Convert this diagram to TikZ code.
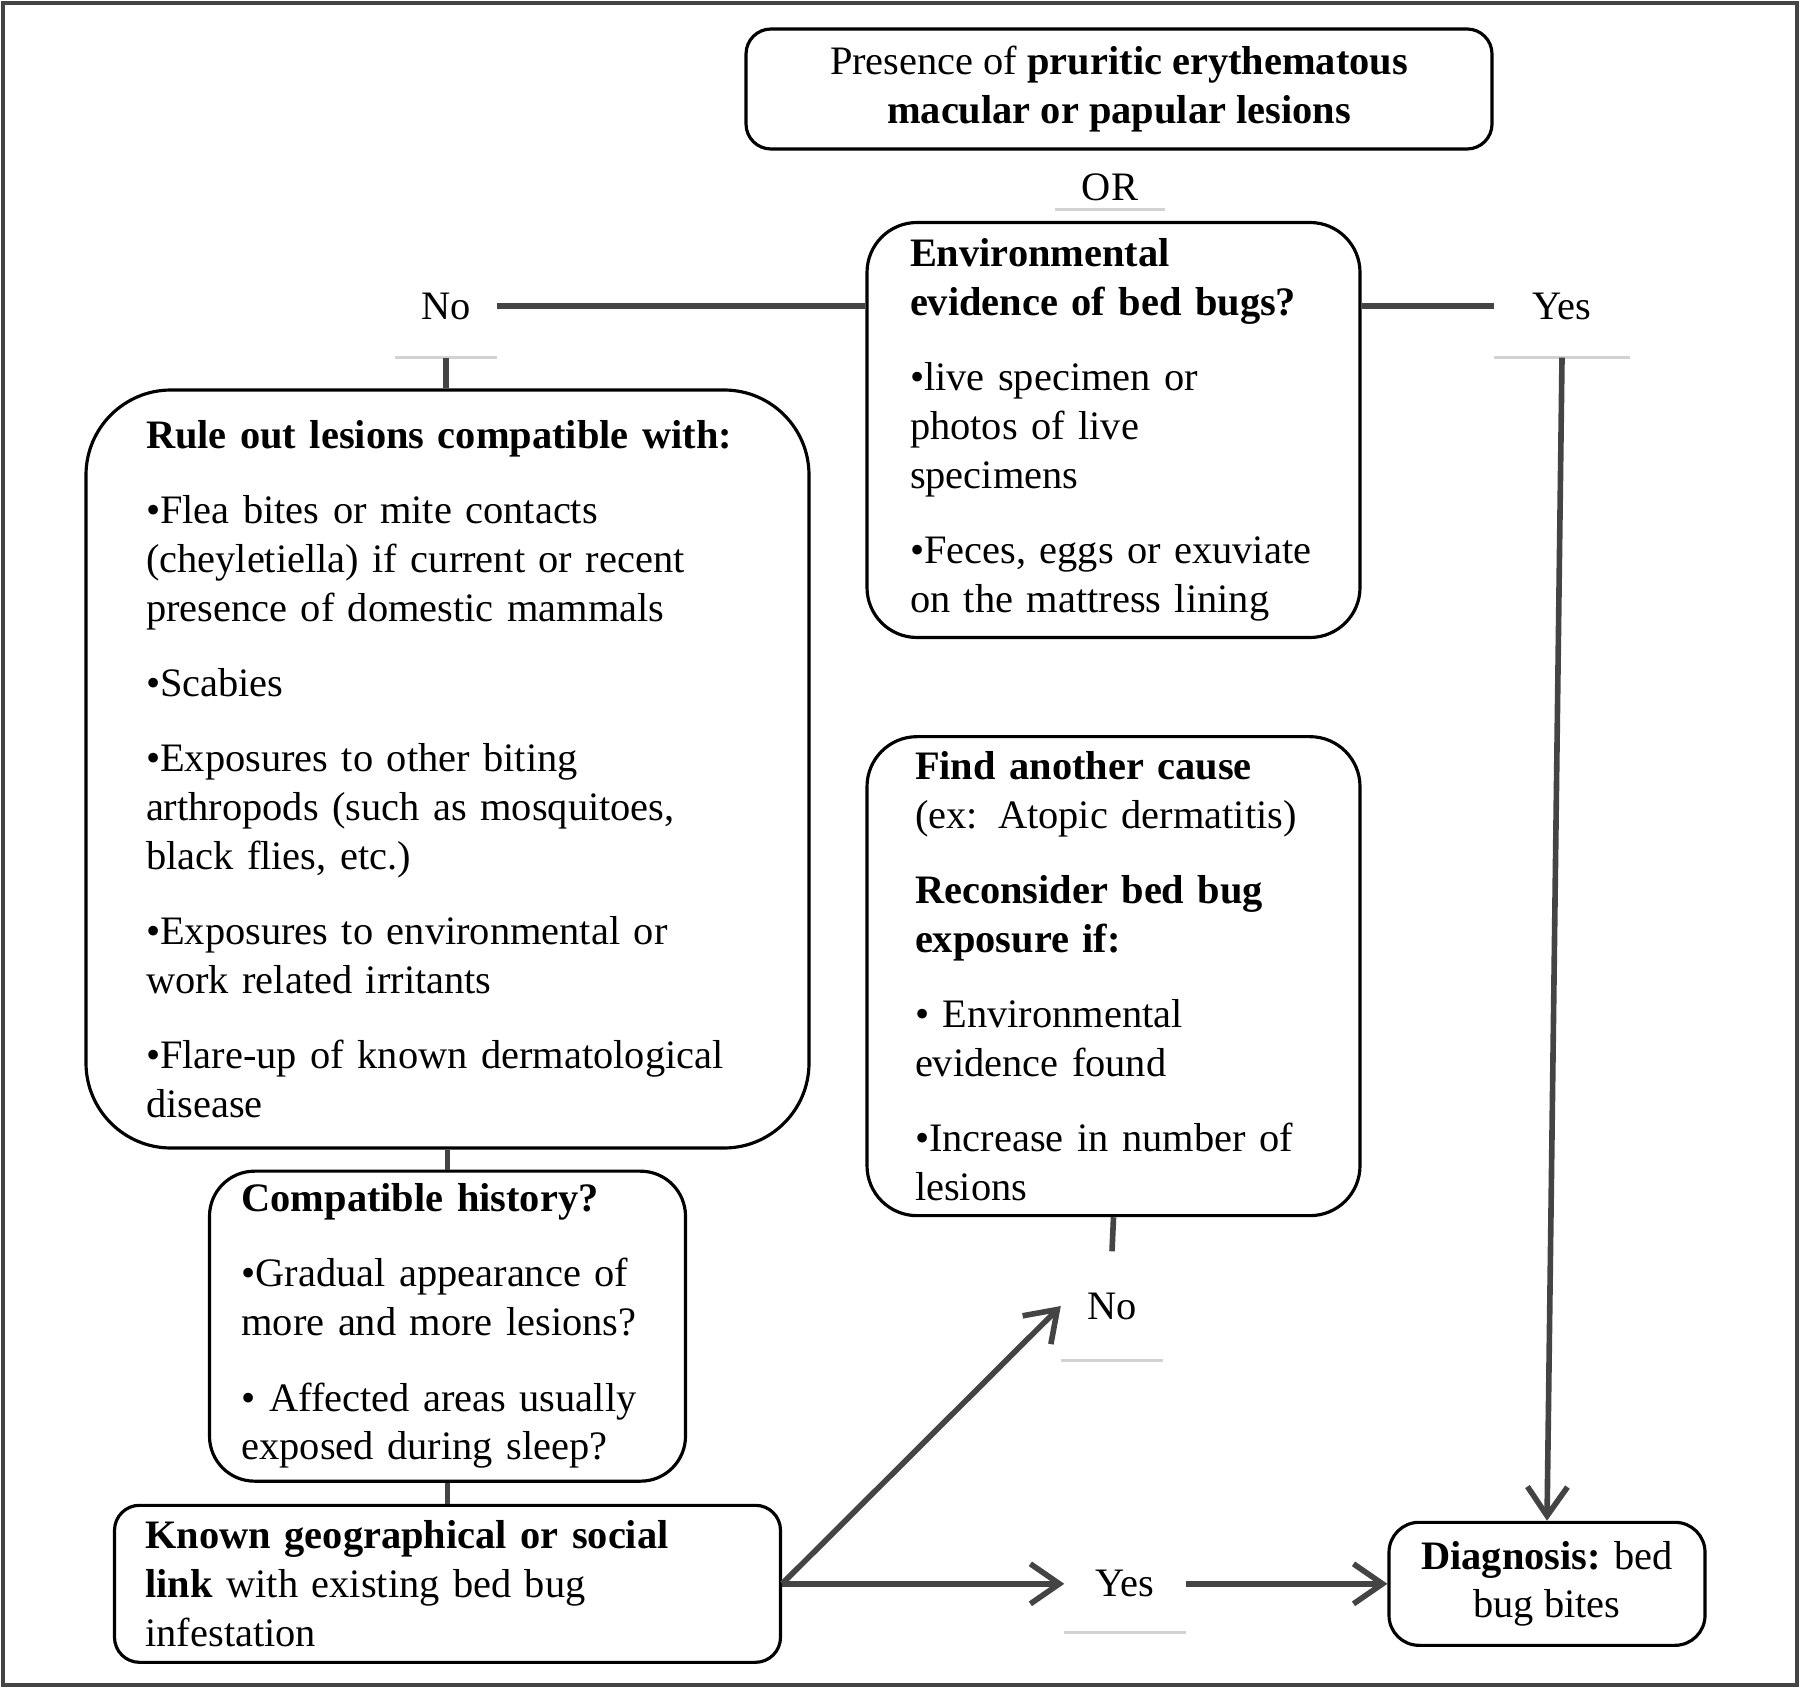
\documentclass[tikz,border=0pt]{standalone}
\usepackage{fontspec}
\setmainfont{Liberation Serif}
\usetikzlibrary{positioning, arrows.meta, calc}
\definecolor{lcolor}{HTML}{444444}
\definecolor{ucolor}{HTML}{D2D2D2}

\begin{document}
\begin{tikzpicture}[x=0.1mm, y=-0.1mm,
    box/.style={rectangle, draw=black, rounded corners=5mm, line width=0.9pt, align=left, font=\fontsize{11.5}{13.9}\selectfont, inner ysep=0pt},
    ans/.style={rectangle, inner sep=0pt, font=\fontsize{11.5}{13.9}\selectfont},
    con/.style={draw=lcolor, line width=1.6pt},
    arr/.style={con, -{Straight Barb[length=2.9mm, width=4mm]}},
    uline/.style={draw=ucolor, line width=0.8pt},
  ]
    \useasboundingbox (0,0) rectangle (1800,1688);
    \draw[draw=lcolor, line width=1.2pt] (3,3) rectangle (1797,1685);

    % top of the chart
    \node[box, align=center, rounded corners=2.5mm, minimum width=74.6mm, minimum height=12mm] (pres) at (1119,89)
      {Presence of \textbf{pruritic erythematous}\\\textbf{macular or papular lesions}};
    \node[ans, minimum width=10.9mm, minimum height=4.4mm] (or) at (1110,187) {OR};
    \node[box, rounded corners=5mm, text width=40.7mm, inner xsep=4.3mm, minimum width=49.3mm, minimum height=41.5mm] (env) at (1113.5,430)
      {\textbf{Environmental}\\\textbf{evidence of bed bugs?}\\[7.5pt]
       •live specimen or\\photos of live\\specimens\\[7.5pt]
       •Feces, eggs or exuviate\\on the mattress lining};
    \node[ans, minimum width=10mm, minimum height=10.2mm] (noA) at (446,306) {No};
    \node[ans, minimum width=13.5mm, minimum height=10.2mm] (yesA) at (1562,306) {Yes};

    % left branch
    \node[box, rounded corners=8.5mm, text width=60.3mm, inner xsep=6mm, minimum width=72.3mm, minimum height=75.8mm] (rule) at (447.5,769)
      {\textbf{Rule out lesions compatible with:}\\[7.5pt]
       •Flea bites or mite contacts\\(cheyletiella) if current or recent\\presence of domestic mammals\\[7.5pt]
       •Scabies\\[7.5pt]
       •Exposures to other biting\\arthropods (such as mosquitoes,\\black flies, etc.)\\[7.5pt]
       •Exposures to environmental or\\work related irritants\\[7.5pt]
       •Flare-up of known dermatological\\disease};
    \node[box, rounded corners=4.5mm, text width=41.2mm, inner xsep=3.2mm, minimum width=47.6mm, minimum height=31mm, below=2mm of rule] (compat)
      {\textbf{Compatible history?}\\[7.5pt]
       •Gradual appearance of\\more and more lesions?\\[7.5pt]
       • Affected areas usually\\exposed during sleep?};
    \node[box, rounded corners=2.5mm, text width=60.4mm, inner xsep=3.1mm, minimum width=66.6mm, minimum height=15.7mm, below=2.1mm of compat] (known)
      {\textbf{Known geographical or social}\\\textbf{link} with existing bed bug\\infestation};

    % right branch
    \node[box, rounded corners=5mm, text width=39.7mm, inner xsep=4.8mm, minimum width=49.3mm, minimum height=47.9mm, below=9.6mm of env] (find)
      {\textbf{Find another cause}\\(ex: Atopic dermatitis)\\[7.5pt]
       \textbf{Reconsider bed bug}\\\textbf{exposure if:}\\[7.5pt]
       • Environmental\\evidence found\\[7.5pt]
       •Increase in number of\\lesions};
    \node[ans, minimum width=10.1mm, minimum height=10.8mm] (noB) at (1112,1306) {No};
    \node[ans, minimum width=12mm, minimum height=9.6mm] (yesB) at (known.east -| 1125,0) {Yes};
    \node[box, align=center, rounded corners=3mm, minimum width=31.6mm, minimum height=12.3mm] (diag) at (known.east -| 1547,0)
      {\textbf{Diagnosis:} bed\\bug bites};

    % light rules under the answers
    \foreach \n in {or, noA, yesA, noB, yesB}
      \draw[uline] (\n.south west) -- (\n.south east);

    % connectors
    \draw[con] (noA.east) -- (noA.east -| env.west);
    \draw[con] (yesA.west -| env.east) -- (yesA.west);
    \draw[con] (noA.south) -- (noA.south |- rule.north);
    \draw[con] (rule.south) -- (compat.north);
    \draw[con] (compat.south) -- (known.north);
    \draw[con] (find.south) -- (noB.north);
    \draw[arr] (yesA.south) -- (diag.north);
    \draw[arr] (known.east) -- (noB.west);
    \draw[arr] (known.east) -- (yesB.west);
    \draw[arr] (yesB.east) -- (diag.west);
  \end{tikzpicture}
\end{document}
